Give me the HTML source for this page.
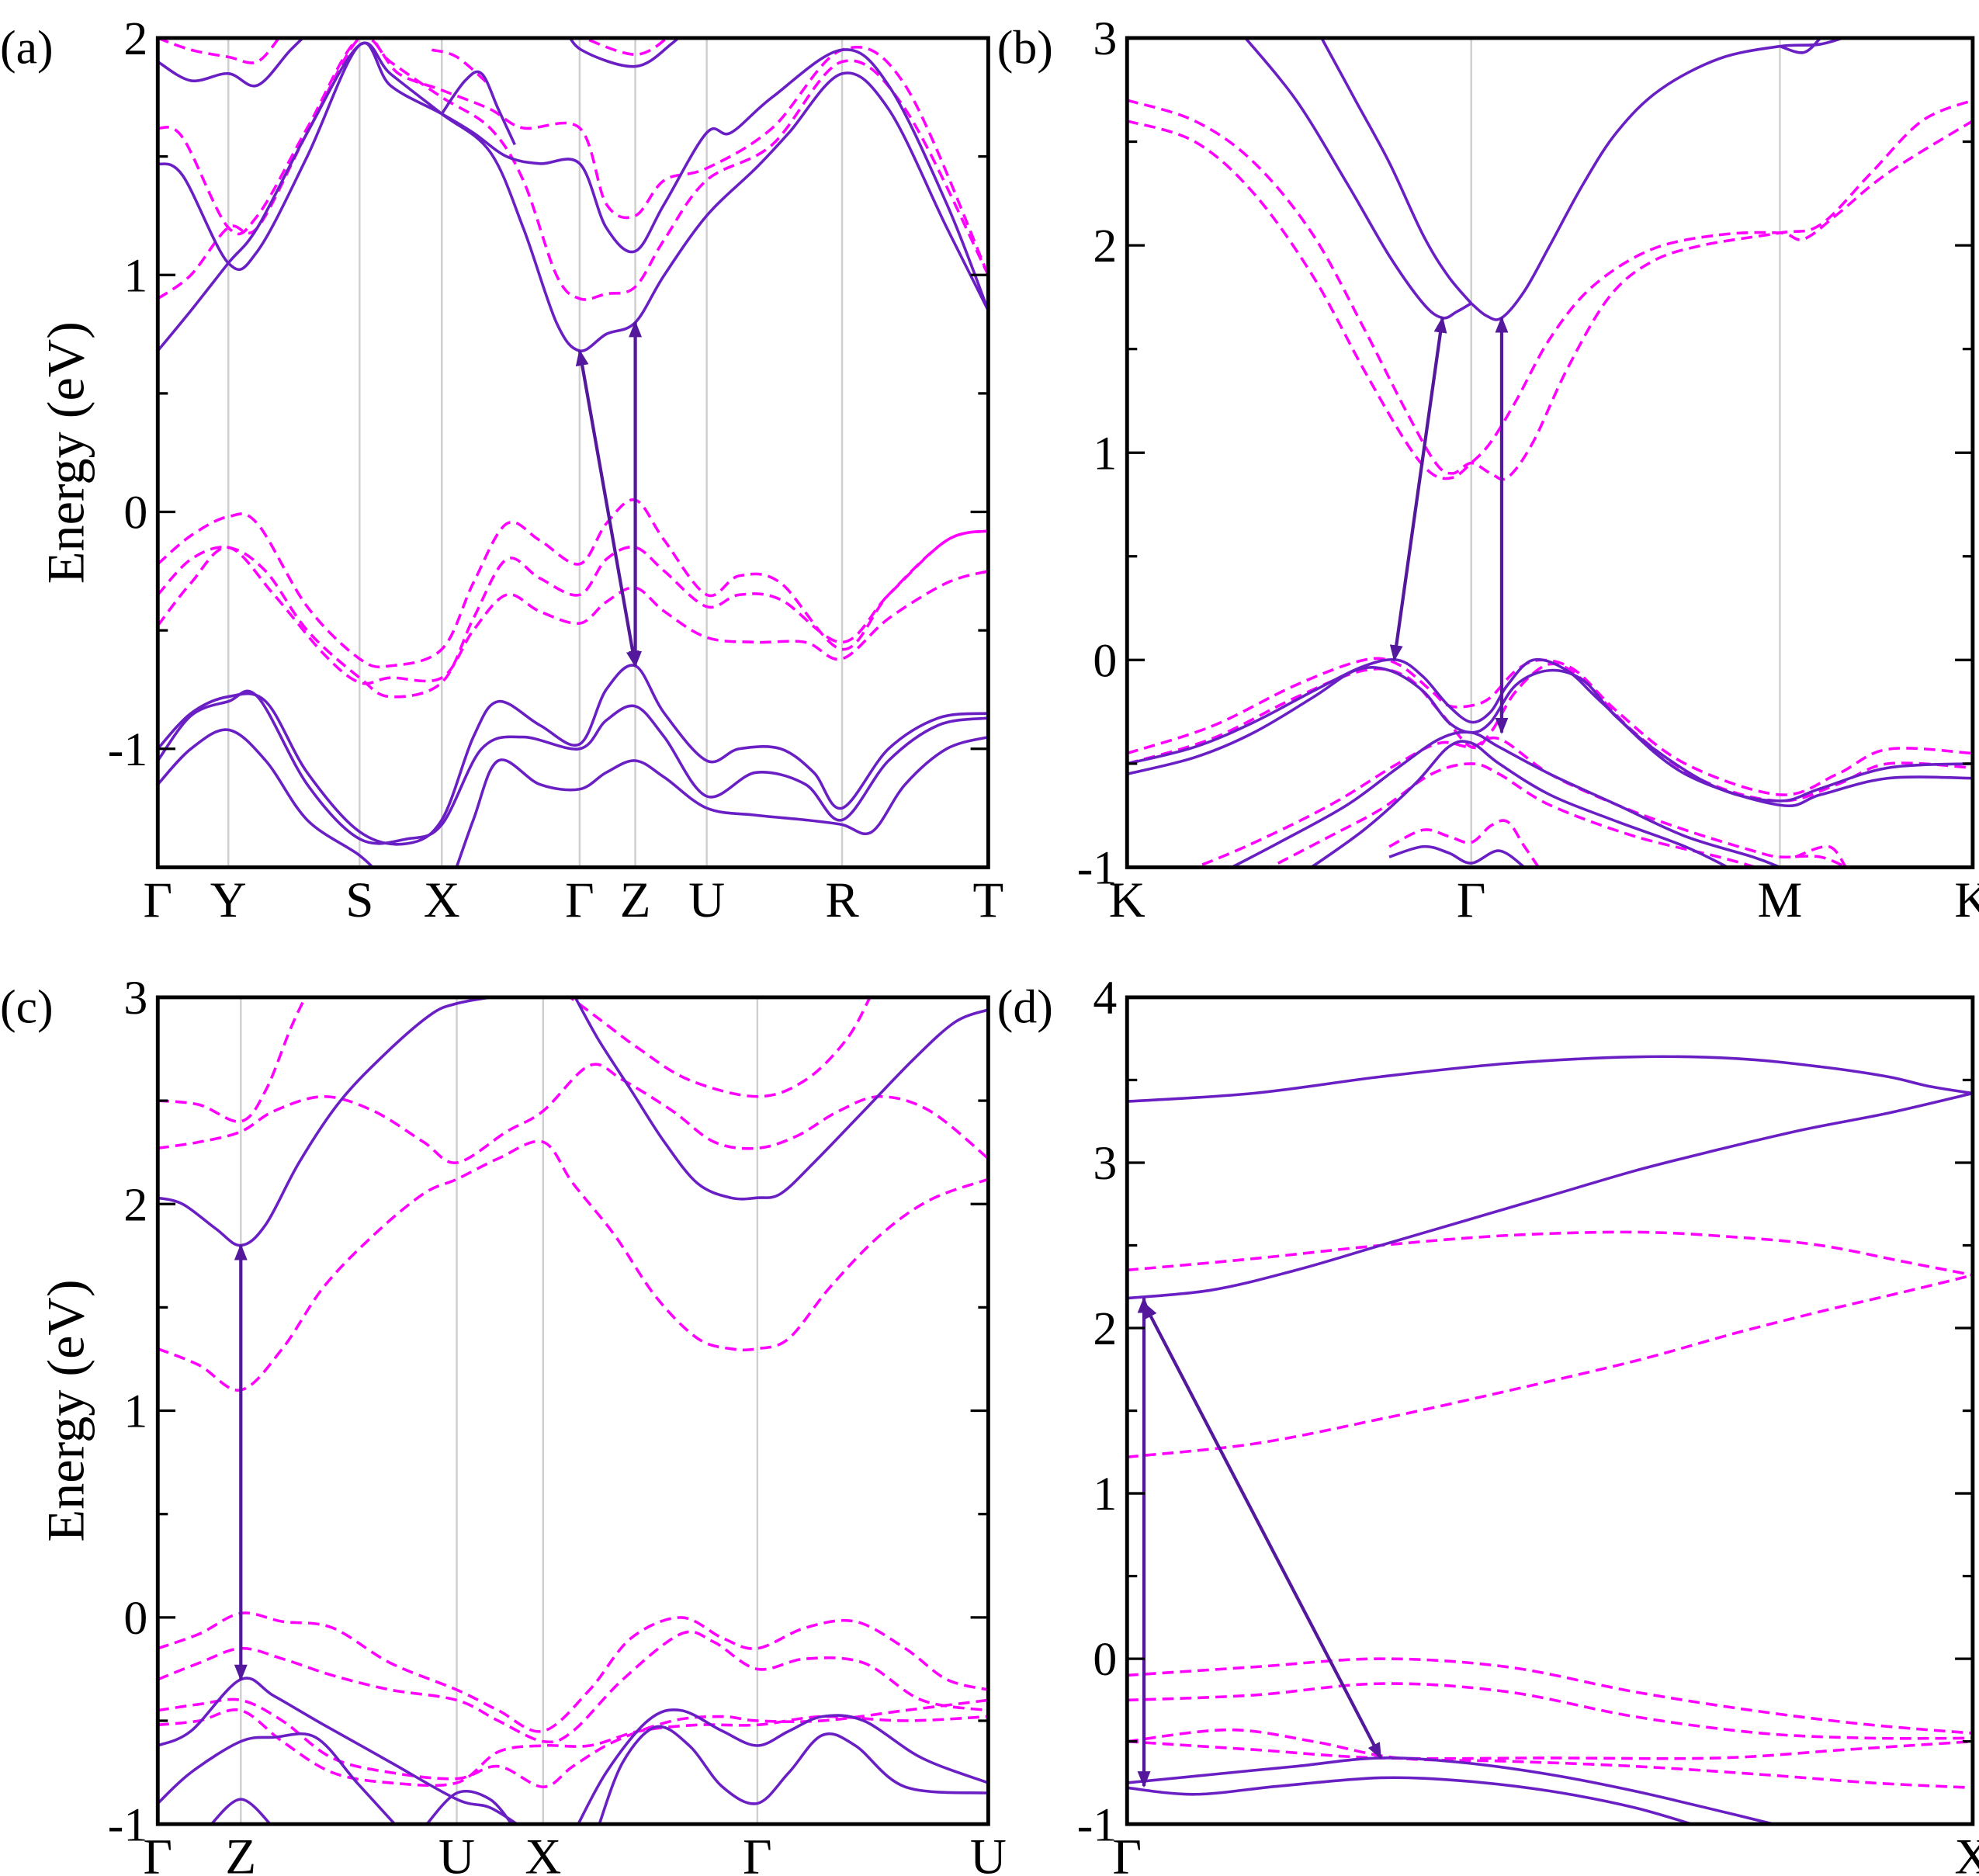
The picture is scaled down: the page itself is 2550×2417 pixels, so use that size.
<!DOCTYPE html>
<html><head><meta charset="utf-8"><style>
html,body{margin:0;padding:0;background:#fff}
svg{display:block}
text{font-family:"Liberation Serif",serif;fill:#000}
</style></head><body>
<svg id="fig" width="2550" height="2417" viewBox="0 0 1568 1486" xmlns="http://www.w3.org/2000/svg"></svg>
<script>
// ---------- DATA ----------
const panelALabels = ["Γ","Y","S","X","Γ","Z","U","R","T"];
const panelAKpts = [0,8.5,24.3,34.2,50.8,57.5,66.1,82.4,100];
const panelASolid = [
 [[0,0.68],[4,0.85],[8.5,1.05],[12,1.2],[18,1.6],[24.3,1.97],[28,1.85],[34.2,1.68],[40,1.52],[44,1.2],[48,0.8],[50.8,0.68],[54,0.75],[57.5,0.8],[61,1.0],[66.1,1.25],[72,1.45],[76,1.6],[82.4,1.85],[88,1.7],[95,1.2],[100,0.85]],
 [[0,1.47],[3,1.42],[8.5,1.05],[12,1.1],[18,1.5],[24.3,1.97],[28,1.8],[34.2,1.68],[38,1.6],[42,1.5],[46,1.47],[50.8,1.47],[54,1.2],[57.5,1.1],[61,1.3],[66.1,1.6],[69,1.6],[74,1.75],[82.4,1.95],[88,1.8],[95,1.3],[100,0.85]],
 [[0,1.9],[4,1.82],[8.5,1.85],[12,1.8],[16,1.95],[19,2.05]],
 [[34.2,1.68],[37,1.82],[39,1.85],[41,1.7],[43,1.55]],
 [[49,2.05],[51,1.95],[57.5,1.88],[62,1.98],[64,2.05]],
 [[0,-1.0],[4,-0.85],[8.5,-0.78],[13,-0.8],[18,-1.1],[24.3,-1.35],[30,-1.4],[34.2,-1.3],[38,-0.95],[41,-0.8],[46,-0.9],[50.8,-0.98],[54,-0.75],[57.5,-0.65],[61,-0.85],[66.1,-1.05],[70,-1.0],[75,-1.0],[79,-1.1],[82.4,-1.25],[88,-1.0],[94,-0.87],[100,-0.85]],
 [[0,-1.05],[4,-0.86],[8.5,-0.8],[12,-0.78],[18,-1.15],[24.3,-1.38],[30,-1.38],[34.2,-1.32],[39,-1.0],[44,-0.95],[50.8,-1.0],[54,-0.88],[57.5,-0.82],[61,-0.95],[66.1,-1.2],[72,-1.1],[78,-1.15],[82.4,-1.3],[88,-1.05],[94,-0.9],[100,-0.87]],
 [[0,-1.15],[4,-1.0],[8.5,-0.92],[13,-1.05],[18,-1.3],[24.3,-1.45],[27,-1.55],[30,-1.7]],
 [[35,-1.6],[38,-1.3],[41,-1.05],[46,-1.15],[50.8,-1.17],[54,-1.1],[57.5,-1.05],[61,-1.12],[66.1,-1.25],[72,-1.28],[78,-1.3],[82.4,-1.32],[86,-1.35],[90,-1.15],[95,-1.0],[100,-0.95]]
];
const panelADashed = [
 [[0,0.9],[4,1.0],[8.5,1.2],[12,1.2],[18,1.6],[24.3,2.0],[28,1.9],[34.2,1.75],[40,1.62],[44,1.4],[48,1.0],[50.8,0.9],[54,0.92],[57.5,0.95],[61,1.15],[66.1,1.4],[74,1.55],[82.4,1.9],[90,1.7],[100,1.0]],
 [[0,1.62],[3,1.58],[8.5,1.2],[12,1.25],[18,1.62],[24.3,2.0],[29,1.85],[34.2,1.78],[40,1.7],[44,1.62],[50.8,1.62],[54,1.3],[57.5,1.25],[61,1.4],[66.1,1.45],[74,1.62],[82.4,1.95],[90,1.8],[100,1.0]],
 [[0,2.0],[4,1.95],[8.5,1.92],[12,1.9],[15,2.02]],
 [[33,1.95],[36,1.92],[40,1.8]],
 [[50,2.02],[57.5,1.93],[62,2.02]],
 [[0,-0.22],[4,-0.1],[8.5,-0.02],[12,-0.05],[18,-0.4],[24.3,-0.62],[28,-0.65],[34.2,-0.58],[38,-0.3],[42,-0.05],[46,-0.12],[50.8,-0.22],[54,-0.05],[57.5,0.05],[61,-0.12],[66.1,-0.35],[70,-0.27],[75,-0.3],[82.4,-0.58],[88,-0.35],[95,-0.12],[100,-0.08]],
 [[0,-0.35],[4,-0.2],[8.5,-0.15],[13,-0.25],[18,-0.5],[24.3,-0.7],[28,-0.78],[34.2,-0.72],[38,-0.45],[42,-0.2],[46,-0.28],[50.8,-0.35],[54,-0.2],[57.5,-0.15],[61,-0.25],[66.1,-0.4],[70,-0.35],[75,-0.37],[82.4,-0.55],[88,-0.35],[95,-0.12],[100,-0.08]],
 [[0,-0.48],[4,-0.3],[8.5,-0.15],[14,-0.35],[20,-0.6],[24.3,-0.72],[28,-0.7],[34.2,-0.7],[38,-0.5],[42,-0.35],[46,-0.42],[50.8,-0.47],[54,-0.38],[57.5,-0.32],[61,-0.42],[66.1,-0.53],[72,-0.55],[78,-0.55],[82.4,-0.62],[88,-0.45],[95,-0.3],[100,-0.25]]
];
const panelAArrows = [[57.5,-0.65,50.8,0.68],[57.5,-0.65,57.5,0.8]];

const panelBLabels = ["K","Γ","M","K"];
const panelBKpts = [0,40.7,77.2,100];
const panelBSolid = [
 [[14,3.0],[20,2.7],[26,2.3],[31,1.95],[35,1.72],[37.3,1.65],[39,1.68],[40.7,1.72]],
 [[23,3.0],[27,2.7],[31,2.4],[35,2.05],[38,1.85],[40.7,1.72]],
 [[40.7,1.72],[42.5,1.66],[44.3,1.65],[47,1.78],[50,2.0],[54,2.3],[58,2.55],[63,2.75],[70,2.9],[77.2,2.96],[82,2.97],[86,3.02]],
 [[77.2,2.96],[80,2.93],[82,3.0]],
 [[0,-0.5],[8,-0.42],[15,-0.3],[22,-0.15],[28,-0.03],[32,0.0],[35,-0.08],[38,-0.22],[40.7,-0.3],[43,-0.25],[45,-0.12],[48,0.0],[52,-0.05],[56,-0.2],[62,-0.42],[70,-0.62],[77.2,-0.68],[82,-0.62],[90,-0.52],[100,-0.5]],
 [[0,-0.55],[8,-0.47],[15,-0.35],[22,-0.18],[27,-0.05],[31,-0.05],[35,-0.15],[38,-0.3],[40.7,-0.35],[43,-0.3],[46,-0.12],[50,-0.05],[54,-0.1],[58,-0.28],[66,-0.55],[77.2,-0.7],[82,-0.65],[90,-0.57],[100,-0.57]],
 [[10,-1.05],[18,-0.88],[26,-0.7],[32,-0.52],[37,-0.38],[40.7,-0.35],[44,-0.42],[50,-0.55],[58,-0.7],[66,-0.85],[74,-0.95],[77.2,-1.0]],
 [[20,-1.05],[28,-0.82],[34,-0.6],[38,-0.42],[40.7,-0.4],[44,-0.5],[50,-0.65],[58,-0.78],[66,-0.9],[72,-1.02]],
 [[31,-0.95],[35,-0.9],[38,-0.93],[40.7,-0.98],[44,-0.92],[47,-1.0]]
];
const panelBDashed = [
 [[0,2.7],[8,2.6],[15,2.4],[22,2.05],[28,1.6],[33,1.2],[36.5,0.95],[38.5,0.9],[40.7,0.95],[43,0.9],[45,0.88],[48,1.05],[52,1.4],[57,1.75],[62,1.92],[68,2.0],[77.2,2.06],[82,2.1],[88,2.35],[94,2.6],[100,2.7]],
 [[0,2.6],[8,2.5],[15,2.25],[22,1.85],[28,1.4],[33,1.05],[36,0.9],[38.5,0.88],[40.7,0.95],[43,1.05],[46,1.25],[50,1.55],[55,1.8],[62,1.98],[70,2.05],[77.2,2.06],[80,2.03],[84,2.15],[90,2.35],[100,2.6]],
 [[0,-0.45],[10,-0.32],[20,-0.12],[28,0.0],[32,-0.02],[36,-0.15],[38,-0.22],[40.7,-0.22],[43,-0.18],[46,-0.05],[49,0.0],[53,-0.05],[58,-0.25],[66,-0.5],[77.2,-0.65],[84,-0.55],[90,-0.43],[100,-0.45]],
 [[0,-0.5],[10,-0.38],[20,-0.18],[28,-0.05],[33,-0.08],[37,-0.25],[40.7,-0.42],[43,-0.35],[46,-0.15],[50,-0.02],[54,-0.1],[60,-0.35],[68,-0.58],[77.2,-0.68],[84,-0.6],[90,-0.5],[100,-0.52]],
 [[5,-1.05],[14,-0.9],[24,-0.7],[32,-0.5],[37,-0.4],[40.7,-0.42],[44,-0.38],[50,-0.55],[58,-0.7],[66,-0.82],[74,-0.92],[77.2,-0.95],[82,-0.95],[86,-1.02]],
 [[16,-1.02],[24,-0.85],[30,-0.72],[36,-0.55],[40.7,-0.5],[44,-0.55],[50,-0.7],[60,-0.85],[70,-0.95],[76,-1.02]],
 [[31,-0.9],[35,-0.82],[38,-0.85],[40.7,-0.88],[43,-0.8],[45,-0.78],[47,-0.9],[49,-1.02]],
 [[79,-0.95],[83,-0.9],[85,-1.0]]
];
const panelBArrows = [[37.3,1.65,31.6,0.0],[44.3,1.65,44.3,-0.35]];

const panelCLabels = ["Γ","Z","U","X","Γ","U"];
const panelCKpts = [0,10,36,46.4,72.2,100];
const panelCSolid = [
 [[0,2.03],[3,2.0],[7,1.88],[10,1.8],[13,1.9],[17,2.2],[22,2.5],[28,2.75],[33,2.92],[36,2.97],[40,3.0]],
 [[50,3.02],[53,2.8],[57,2.55],[61,2.3],[65,2.1],[69,2.03],[72.2,2.03],[75,2.05],[79,2.2],[85,2.45],[91,2.7],[96,2.88],[100,2.94]],
 [[0,-0.62],[4,-0.55],[10,-0.3],[14,-0.38],[20,-0.52],[28,-0.7],[36,-0.88],[40,-0.92],[44,-1.02]],
 [[50,-1.05],[54,-0.75],[59,-0.5],[63,-0.45],[68,-0.55],[72.2,-0.62],[76,-0.55],[80,-0.48],[85,-0.5],[92,-0.68],[100,-0.8]],
 [[0,-0.9],[4,-0.75],[10,-0.6],[14,-0.58],[19,-0.58],[24,-0.8],[29,-1.02]],
 [[32,-1.02],[36,-0.85],[40,-0.88],[43,-1.02]],
 [[53,-1.02],[56,-0.7],[60,-0.53],[64,-0.62],[68,-0.82],[72.2,-0.9],[76,-0.75],[80,-0.57],[84,-0.62],[90,-0.82],[100,-0.85]],
 [[6,-1.02],[10,-0.88],[14,-1.02]]
];
const panelCDashed = [
 [[0,1.3],[5,1.22],[10,1.1],[15,1.3],[20,1.6],[26,1.85],[32,2.05],[36,2.12],[41,2.22],[46.4,2.3],[50,2.1],[55,1.85],[60,1.55],[65,1.35],[69,1.3],[72.2,1.3],[76,1.35],[81,1.6],[87,1.85],[93,2.02],[100,2.12]],
 [[0,2.27],[5,2.3],[10,2.35],[14,2.45],[20,2.52],[26,2.45],[32,2.3],[36,2.2],[42,2.35],[46.4,2.45],[52,2.67],[56,2.6],[62,2.45],[67,2.3],[72.2,2.27],[77,2.33],[82,2.45],[87,2.52],[93,2.45],[100,2.22]],
 [[0,2.5],[5,2.48],[10,2.4],[13,2.55],[16,2.85],[18,3.02]],
 [[49,3.02],[53,2.9],[58,2.75],[64,2.6],[72.2,2.52],[78,2.6],[83,2.8],[86,3.02]],
 [[0,-0.15],[5,-0.08],[10,0.02],[15,-0.02],[21,-0.05],[28,-0.22],[36,-0.35],[41,-0.45],[46.4,-0.55],[52,-0.35],[57,-0.1],[63,0.0],[68,-0.1],[72.2,-0.15],[78,-0.05],[84,-0.02],[90,-0.15],[95,-0.3],[100,-0.35]],
 [[0,-0.3],[5,-0.22],[10,-0.15],[15,-0.2],[21,-0.28],[28,-0.35],[36,-0.4],[41,-0.5],[46.4,-0.6],[50,-0.55],[56,-0.3],[63,-0.08],[67,-0.12],[72.2,-0.25],[78,-0.2],[85,-0.22],[92,-0.4],[100,-0.45]],
 [[0,-0.45],[5,-0.42],[10,-0.4],[15,-0.5],[21,-0.68],[28,-0.75],[36,-0.78],[41,-0.72],[46.4,-0.82],[50,-0.72],[55,-0.6],[62,-0.5],[68,-0.48],[72.2,-0.5],[80,-0.5],[90,-0.45],[100,-0.4]],
 [[0,-0.52],[5,-0.5],[10,-0.45],[15,-0.6],[21,-0.75],[28,-0.8],[36,-0.8],[41,-0.65],[46.4,-0.62],[52,-0.62],[58,-0.55],[65,-0.52],[72.2,-0.52],[80,-0.48],[90,-0.5],[100,-0.48]]
];
const panelCArrows = [[10,-0.3,10,1.8]];

const panelDLabels = ["Γ","X"];
const panelDKpts = [0,100];
const panelDSolid = [
 [[0,3.37],[15,3.42],[30,3.52],[45,3.6],[60,3.64],[72,3.63],[82,3.58],[90,3.52],[95,3.46],[100,3.42]],
 [[0,2.18],[10,2.23],[20,2.35],[30,2.5],[40,2.65],[50,2.8],[60,2.95],[70,3.08],[80,3.2],[90,3.3],[100,3.42]],
 [[0,-0.78],[8,-0.82],[18,-0.77],[30,-0.72],[40,-0.74],[50,-0.8],[60,-0.9],[68,-1.02]],
 [[0,-0.75],[10,-0.7],[20,-0.65],[30,-0.6],[40,-0.63],[50,-0.7],[60,-0.8],[70,-0.92],[78,-1.02]]
];
const panelDDashed = [
 [[0,2.35],[15,2.42],[30,2.5],[45,2.56],[60,2.58],[72,2.55],[82,2.5],[92,2.4],[100,2.32]],
 [[0,1.22],[15,1.3],[30,1.45],[45,1.62],[60,1.8],[72,1.97],[82,2.1],[92,2.22],[100,2.32]],
 [[0,-0.1],[15,-0.05],[30,0.0],[45,-0.05],[60,-0.2],[75,-0.32],[88,-0.4],[100,-0.45]],
 [[0,-0.25],[15,-0.22],[30,-0.15],[45,-0.2],[60,-0.35],[75,-0.45],[88,-0.48],[100,-0.48]],
 [[0,-0.5],[12,-0.43],[22,-0.5],[32,-0.6],[45,-0.62],[60,-0.65],[75,-0.7],[88,-0.75],[100,-0.78]],
 [[0,-0.5],[15,-0.55],[30,-0.6],[50,-0.6],[70,-0.6],[85,-0.55],[100,-0.5]]
];
const panelDArrows = [[2,-0.77,2,2.18],[30,-0.6,2,2.15]];

const yTicksA = [-1,0,1,2];
const yTicksB = [-1,0,1,2,3];
const yTicksC = [-1,0,1,2,3];
const yTicksD = [-1,0,1,2,3,4];

// ---------- DRAWING ----------
const NS = "http://www.w3.org/2000/svg";
const svg = document.getElementById('fig');
function mk(tag, attrs, parent){const e=document.createElementNS(NS,tag);for(const k in attrs)e.setAttribute(k,attrs[k]);(parent||svg).appendChild(e);return e;}
const SOLID="#6a1fc4", DASH="#ff00ff", ARROW="#54189c";
const defs = mk('defs',{});
const mkr = mk('marker',{id:'ah',viewBox:'0 0 10 10',refX:'9',refY:'5',markerWidth:'5',markerHeight:'5',orient:'auto-start-reverse'},defs);
mk('path',{d:'M0,1 L10,5 L0,9 z',fill:ARROW},mkr);

function smoothPath(pts){
  let d=`M${pts[0][0].toFixed(1)},${pts[0][1].toFixed(1)}`;
  for(let i=0;i<pts.length-1;i++){
    const p0=pts[Math.max(0,i-1)],p1=pts[i],p2=pts[i+1],p3=pts[Math.min(pts.length-1,i+2)];
    const c1=[p1[0]+(p2[0]-p0[0])/6,p1[1]+(p2[1]-p0[1])/6];
    const c2=[p2[0]-(p3[0]-p1[0])/6,p2[1]-(p3[1]-p1[1])/6];
    d+=` C${c1[0].toFixed(1)},${c1[1].toFixed(1)} ${c2[0].toFixed(1)},${c2[1].toFixed(1)} ${p2[0].toFixed(1)},${p2[1].toFixed(1)}`;
  }
  return d;
}

function panel(cfg){
  const {id,x0,x1,y0,y1,ymin,ymax,yticks,labels,kpts,solid,dashed,arrows,tag,showTitle}=cfg;
  const g=mk('g',{});
  
  
  const X=k=>x0+(x1-x0)*k/100;
  const Y=e=>y1-(y1-y0)*(e-ymin)/(ymax-ymin);
  const cp=mk('clipPath',{id:'clip-'+id},defs);
  mk('rect',{x:x0,y:y0,width:x1-x0,height:y1-y0},cp);
  kpts.forEach((k,i)=>{
    if(i>0&&i<kpts.length-1){
      const l=mk('line',{x1:X(k),x2:X(k),y1:y0,y2:y1,stroke:'#cfcfcf','stroke-width':1.5},g);
      
      
    }
  });
  const bg=mk('g',{'clip-path':`url(#clip-${id})`},g);
  dashed.forEach(b=>{
    const p=mk('path',{d:smoothPath(b.map(q=>[X(q[0]),Y(q[1])])),fill:'none',stroke:DASH,'stroke-width':2.2,'stroke-dasharray':'9,5'},bg);
    
    
  });
  solid.forEach(b=>{
    const p=mk('path',{d:smoothPath(b.map(q=>[X(q[0]),Y(q[1])])),fill:'none',stroke:SOLID,'stroke-width':2.2},bg);
    
    
  });
  arrows.forEach(a=>{
    const l=mk('line',{x1:X(a[0]),y1:Y(a[1]),x2:X(a[2]),y2:Y(a[3]),stroke:ARROW,'stroke-width':2.6,'marker-start':'url(#ah)','marker-end':'url(#ah)'},g);
    
    
  });
  const fr=mk('rect',{x:x0,y:y0,width:x1-x0,height:y1-y0,fill:'none',stroke:'#000','stroke-width':3},g);
  
  
  for(let v=ymin;v<=ymax+1e-9;v+=0.5){
    const major=Math.abs(v-Math.round(v))<1e-9, L=major?14:8;
    mk('line',{x1:x0,x2:x0+L,y1:Y(v),y2:Y(v),stroke:'#000','stroke-width':2},g);
    mk('line',{x1:x1,x2:x1-L,y1:Y(v),y2:Y(v),stroke:'#000','stroke-width':2},g);
  }
  yticks.forEach(v=>{
    const t=mk('text',{x:x0-8,y:Y(v)+13,'text-anchor':'end','font-size':38},g);
    t.textContent=String(v);
    
    
  });
  labels.forEach((s,i)=>{
    const t=mk('text',{x:X(kpts[i]),y:y1+39,'text-anchor':'middle','font-size':40},g);
    t.textContent=s;
    
    
  });
  const pt=mk('text',{x:(id==='a'||id==='c')?0:790,y:y0+20,'font-size':38},g);
  pt.textContent=tag;
  
  
  if(showTitle){
    const cy=(y0+y1)/2;
    const t=mk('text',{x:66,y:cy,'text-anchor':'middle','font-size':42,transform:`rotate(-90 66 ${cy})`},g);
    t.textContent='Energy (eV)';
    
    
  }
}
panel({id:'a',x0:125,x1:783,y0:30,y1:687,ymin:-1.5,ymax:2,yticks:yTicksA,labels:panelALabels,kpts:panelAKpts,solid:panelASolid,dashed:panelADashed,arrows:panelAArrows,tag:'(a)',showTitle:true});
panel({id:'b',x0:893,x1:1563,y0:30,y1:687,ymin:-1,ymax:3,yticks:yTicksB,labels:panelBLabels,kpts:panelBKpts,solid:panelBSolid,dashed:panelBDashed,arrows:panelBArrows,tag:'(b)',showTitle:false});
panel({id:'c',x0:125,x1:783,y0:790,y1:1445,ymin:-1,ymax:3,yticks:yTicksC,labels:panelCLabels,kpts:panelCKpts,solid:panelCSolid,dashed:panelCDashed,arrows:panelCArrows,tag:'(c)',showTitle:true});
panel({id:'d',x0:893,x1:1563,y0:790,y1:1445,ymin:-1,ymax:4,yticks:yTicksD,labels:panelDLabels,kpts:panelDKpts,solid:panelDSolid,dashed:panelDDashed,arrows:panelDArrows,tag:'(d)',showTitle:false});
</script>
</body></html>
